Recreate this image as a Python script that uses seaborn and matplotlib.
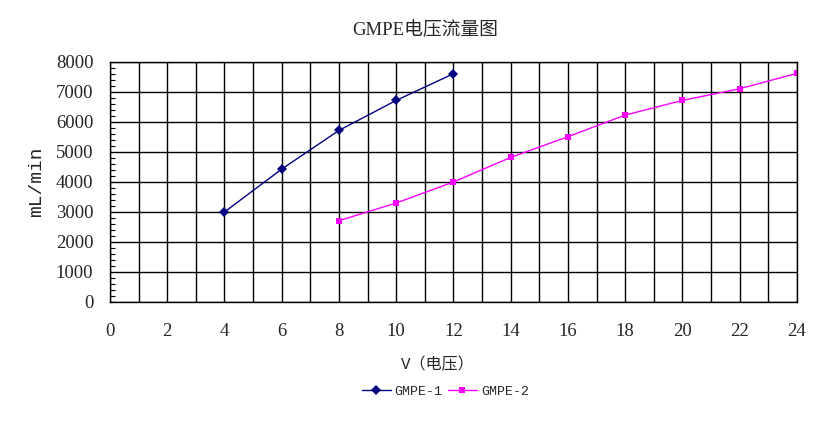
import numpy as np
import pandas as pd
import seaborn as sns
import matplotlib.pyplot as plt
from matplotlib.ticker import MultipleLocator

# GMPE voltage vs flow data
volt_1 = [4, 6, 8, 10, 12]
flow_1 = [3000, 4430, 5720, 6720, 7610]
volt_2 = [8, 10, 12, 14, 16, 18, 20, 22, 24]
flow_2 = [2710, 3300, 4000, 4820, 5510, 6230, 6720, 7110, 7620]
series_names = ['GMPE-1', 'GMPE-2']

x_ticks = list(range(0, 25, 2))
y_ticks = list(range(0, 8001, 1000))

df = pd.concat([
    pd.DataFrame({'V': volt_1, 'flow': flow_1, 'model': series_names[0]}),
    pd.DataFrame({'V': volt_2, 'flow': flow_2, 'model': series_names[1]}),
])

sns.set_style('white')
plt.rcParams['font.family'] = ['Liberation Serif', 'Noto Sans CJK SC', 'DejaVu Sans']

fig = plt.figure(figsize=(8.37, 4.22), dpi=100)
ax = fig.add_axes([0.1314, 0.2844, 0.8208, 0.5687])

sns.lineplot(data=df, x='V', y='flow', hue='model', style='model',
             palette={'GMPE-1': '#000080', 'GMPE-2': '#FF00FF'},
             markers={'GMPE-1': 'D', 'GMPE-2': 's'},
             dashes=False, linewidth=1, markersize=5,
             markeredgewidth=0, ax=ax)

ax.set_xlim(0, 24)
ax.set_ylim(0, 8000)
ax.set_xticks(x_ticks)
ax.set_yticks(y_ticks)
ax.xaxis.set_minor_locator(MultipleLocator(1))
ax.yaxis.set_minor_locator(MultipleLocator(200))

# black grid: vertical every 1 V, horizontal every 1000
ax.grid(which='major', axis='y', color='black', linewidth=1)
ax.grid(which='minor', axis='x', color='black', linewidth=1)
ax.grid(which='major', axis='x', color='black', linewidth=1)
for s in ax.spines.values():
    s.set_color('black')
    s.set_linewidth(1)

ax.tick_params(axis='x', which='both', length=0, pad=15, labelsize=13.5)
ax.tick_params(axis='y', which='major', length=0, pad=12, labelsize=13.5)
ax.tick_params(axis='y', which='minor', direction='in', length=3.5,
               width=0.8, color='black', left=True)

ax.set_xlabel('V（电压）', fontsize=11.5, labelpad=12,
              family=['Liberation Mono', 'Noto Sans CJK SC'])
ax.xaxis.set_label_coords(0.477, -0.23)
ax.set_ylabel('mL/min', fontsize=14, labelpad=8,
              family=['Liberation Mono', 'Noto Sans CJK SC'])

fig.suptitle('GMPE电压流量图', x=0.508, y=0.948, fontsize=13.5,
             family=['Liberation Serif', 'Noto Sans CJK SC'])

handles, labels = ax.get_legend_handles_labels()
ax.legend_.remove()
fig.legend(handles, labels, loc='center', bbox_to_anchor=(0.532, 0.072),
           ncol=2, frameon=False, handlelength=2.2, columnspacing=0.4,
           handletextpad=0.3, prop={'family': 'Liberation Mono', 'size': 9.5})

fig.savefig('out.png', dpi=100)
